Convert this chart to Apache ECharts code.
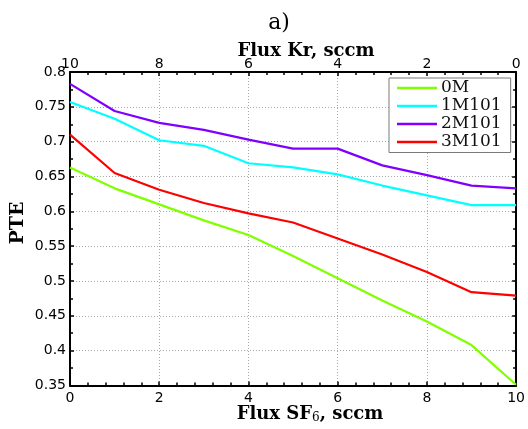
<!DOCTYPE html>
<html>
<head>
<meta charset="utf-8">
<script src="https://cdn.jsdelivr.net/npm/echarts@6/dist/echarts.min.js"></script>
<style>
html,body{margin:0;padding:0;background:#fff;}
#chart{width:528px;height:429px;}
</style>
</head>
<body>
<div id="chart"></div>
<script>
// Flux SF6 (bottom axis), sccm
const fluxSF6 = [0, 1, 2, 3, 4, 5, 6, 7, 8, 9, 10];
// Series values (PTE)
const pte0M    = [0.663, 0.633, 0.610, 0.587, 0.566, 0.536, 0.504, 0.472, 0.442, 0.408, 0.351];
const pte1M101 = [0.757, 0.733, 0.702, 0.694, 0.669, 0.663, 0.653, 0.637, 0.623, 0.609, 0.609];
const pte2M101 = [0.783, 0.744, 0.727, 0.717, 0.703, 0.690, 0.690, 0.666, 0.652, 0.637, 0.633];
const pte3M101 = [0.710, 0.655, 0.631, 0.612, 0.597, 0.584, 0.561, 0.538, 0.513, 0.484, 0.479];
const seriesNames = ['0M', '1M101', '2M101', '3M101'];
const seriesColors = ['#80ff00', '#00ffff', '#8000ff', '#ff0000'];
const seriesValues = [pte0M, pte1M101, pte2M101, pte3M101];

const chart = echarts.init(document.getElementById('chart'));
const tickFont = {fontFamily: 'DejaVu Sans', fontSize: 14, color: '#000'};
const axisLine = {show: true, onZero: false, lineStyle: {color: '#000', width: 2}};
const gridLine = {show: true, lineStyle: {color: '#a8a8a8', type: [1, 2], width: 1}};

const option = {
  animation: false,
  backgroundColor: '#fff',
  textStyle: {fontFamily: 'DejaVu Sans'},
  grid: {left: 70, right: 11, top: 72, bottom: 43.5, containLabel: false},
  legend: {
    data: seriesNames,
    orient: 'vertical',
    left: 389,
    top: 78,
    padding: [1.5, 9, 2, 8],
    itemGap: 1,
    itemWidth: 40,
    itemHeight: 2.5,
    icon: 'rect',
    backgroundColor: '#fff',
    borderColor: '#7a7a7a',
    borderWidth: 1,
    borderRadius: 0,
    textStyle: {fontFamily: 'DejaVu Serif', fontSize: 17, color: '#111', lineHeight: 16, padding: [0, 0, 0, -1]}
  },
  xAxis: [
    {
      type: 'value', position: 'bottom', min: 0, max: 10, interval: 2,
      axisLine: axisLine,
      axisTick: {show: true, inside: true, length: 4, lineStyle: {color: '#000', width: 1.5}},
      minorTick: {show: true, splitNumber: 5, length: 3, lineStyle: {color: '#000', width: 1.5}},
      axisLabel: Object.assign({margin: 6}, tickFont),
      splitLine: gridLine
    },
    {
      type: 'value', position: 'top', min: 0, max: 10, interval: 2, inverse: true,
      axisLine: axisLine,
      axisTick: {show: true, inside: true, length: 4, lineStyle: {color: '#000', width: 1.5}},
      minorTick: {show: true, splitNumber: 5, length: 3, lineStyle: {color: '#000', width: 1.5}},
      axisLabel: Object.assign({margin: 1}, tickFont),
      splitLine: {show: false}
    }
  ],
  yAxis: [
    {
      type: 'value', position: 'left', min: 0.35, max: 0.8, interval: 0.05,
      axisLine: axisLine,
      axisTick: {show: true, inside: true, length: 4, lineStyle: {color: '#000', width: 1.5}},
      minorTick: {show: true, splitNumber: 2, length: 3, lineStyle: {color: '#000', width: 1.5}},
      axisLabel: Object.assign({margin: 4, formatter: v => String(+v.toFixed(2))}, tickFont),
      splitLine: gridLine
    },
    {
      type: 'value', position: 'right', min: 0.35, max: 0.8, interval: 0.05,
      axisLine: axisLine,
      axisTick: {show: true, inside: true, length: 4, lineStyle: {color: '#000', width: 1.5}},
      minorTick: {show: true, splitNumber: 2, length: 3, lineStyle: {color: '#000', width: 1.5}},
      axisLabel: {show: false},
      splitLine: {show: false}
    }
  ],
  series: seriesNames.map((name, k) => ({
    name: name,
    type: 'line',
    xAxisIndex: 0,
    yAxisIndex: 0,
    symbol: 'none',
    showSymbol: false,
    color: seriesColors[k],
    lineStyle: {width: 2.2, color: seriesColors[k]},
    data: fluxSF6.map((x, i) => [x, seriesValues[k][i]]),
    z: 3 + k
  })),
  graphic: [
    {type: 'text', x: 279, y: 23, style: {text: 'a)', font: '22px "DejaVu Serif"', fill: '#000', align: 'center', verticalAlign: 'middle'}},
    {type: 'text', x: 306, y: 51, style: {text: 'Flux Kr, sccm', font: 'bold 18px "DejaVu Serif"', fill: '#000', align: 'center', verticalAlign: 'middle'}},
    {type: 'text', x: 310, y: 414, style: {
      text: '{b|Flux SF}{s|6}{b|, sccm}', align: 'center', verticalAlign: 'middle', fill: '#000',
      rich: {
        b: {fontFamily: 'DejaVu Serif', fontWeight: 'bold', fontSize: 18, lineHeight: 20, fill: '#000'},
        s: {fontFamily: 'DejaVu Serif', fontSize: 12, lineHeight: 10, verticalAlign: 'bottom', fill: '#000'}
      }
    }},
    {type: 'text', x: 18, y: 223, rotation: Math.PI / 2, style: {text: 'PTE', font: 'bold 19px "DejaVu Serif"', fill: '#000', align: 'center', verticalAlign: 'middle'}}
  ]
};
chart.setOption(option);
</script>
</body>
</html>
